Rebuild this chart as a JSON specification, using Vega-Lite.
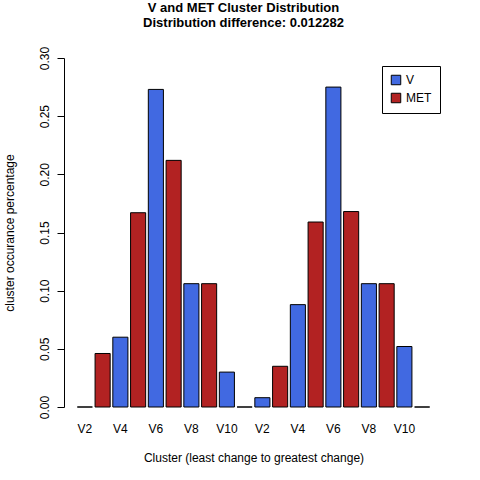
{
  "$schema": "https://vega.github.io/schema/vega-lite/v6.json",
  "width": 363,
  "height": 349,
  "autosize": "none",
  "padding": {"left": 72, "top": 58, "right": 45, "bottom": 73},
  "background": "white",
  "config": {"font": "Liberation Sans", "view": {"stroke": null}},
  "title": {
    "text": ["V and MET Cluster Distribution", "Distribution difference: 0.012282"],
    "fontSize": 13, "fontWeight": "bold", "color": "black", "offset": 16, "dx": -10, "lineHeight": 15, "anchor": "middle"
  },
  "data": {
    "values": [
      {"id": 1, "group": "V", "value": 0.0},
      {"id": 2, "group": "MET", "value": 0.046},
      {"id": 3, "group": "V", "value": 0.060},
      {"id": 4, "group": "MET", "value": 0.167},
      {"id": 5, "group": "V", "value": 0.273},
      {"id": 6, "group": "MET", "value": 0.212},
      {"id": 7, "group": "V", "value": 0.106},
      {"id": 8, "group": "MET", "value": 0.106},
      {"id": 9, "group": "V", "value": 0.030},
      {"id": 10, "group": "MET", "value": 0.0},
      {"id": 11, "group": "V", "value": 0.008},
      {"id": 12, "group": "MET", "value": 0.035},
      {"id": 13, "group": "V", "value": 0.088},
      {"id": 14, "group": "MET", "value": 0.159},
      {"id": 15, "group": "V", "value": 0.275},
      {"id": 16, "group": "MET", "value": 0.168},
      {"id": 17, "group": "V", "value": 0.106},
      {"id": 18, "group": "MET", "value": 0.106},
      {"id": 19, "group": "V", "value": 0.052},
      {"id": 20, "group": "MET", "value": 0.0}
    ]
  },
  "mark": {"type": "bar", "stroke": "black", "strokeWidth": 1},
  "encoding": {
    "x": {
      "field": "id", "type": "ordinal", "sort": "ascending",
      "scale": {"paddingInner": 0.15, "paddingOuter": 0.3},
      "axis": {
        "title": "Cluster (least change to greatest change)",
        "titleFontWeight": "normal", "titleFontSize": 12, "titlePadding": 18,
        "labelAngle": 0, "labelFontSize": 12, "labelColor": "black", "labelPadding": 16,
        "domain": false, "ticks": false,
        "labelExpr": "datum.value % 2 == 1 ? 'V' + (((datum.value - 1) % 10) + 2) : ''"
      }
    },
    "y": {
      "field": "value", "type": "quantitative",
      "scale": {"domain": [0, 0.3], "nice": false},
      "axis": {
        "title": "cluster occurance percentage",
        "titleFontWeight": "normal", "titleFontSize": 12, "titlePadding": 22,
        "values": [0, 0.05, 0.1, 0.15, 0.2, 0.25, 0.3], "format": ".2f",
        "labelAngle": -90, "labelAlign": "center", "labelBaseline": "bottom", "labelFontSize": 12, "labelColor": "black", "labelPadding": 6,
        "grid": false, "domainColor": "black", "tickColor": "black", "tickSize": 7,
        "offset": 8
      }
    },
    "color": {
      "field": "group", "type": "nominal",
      "scale": {"domain": ["V", "MET"], "range": ["#4169E1", "#B22222"]},
      "legend": {
        "title": null, "orient": "none", "legendX": 310, "legendY": 8,
        "symbolType": "square", "symbolSize": 90, "symbolStrokeColor": "black", "symbolStrokeWidth": 1,
        "labelFontSize": 12, "labelColor": "black",
        "strokeColor": "black", "padding": 8, "rowPadding": 4
      }
    }
  }
}
